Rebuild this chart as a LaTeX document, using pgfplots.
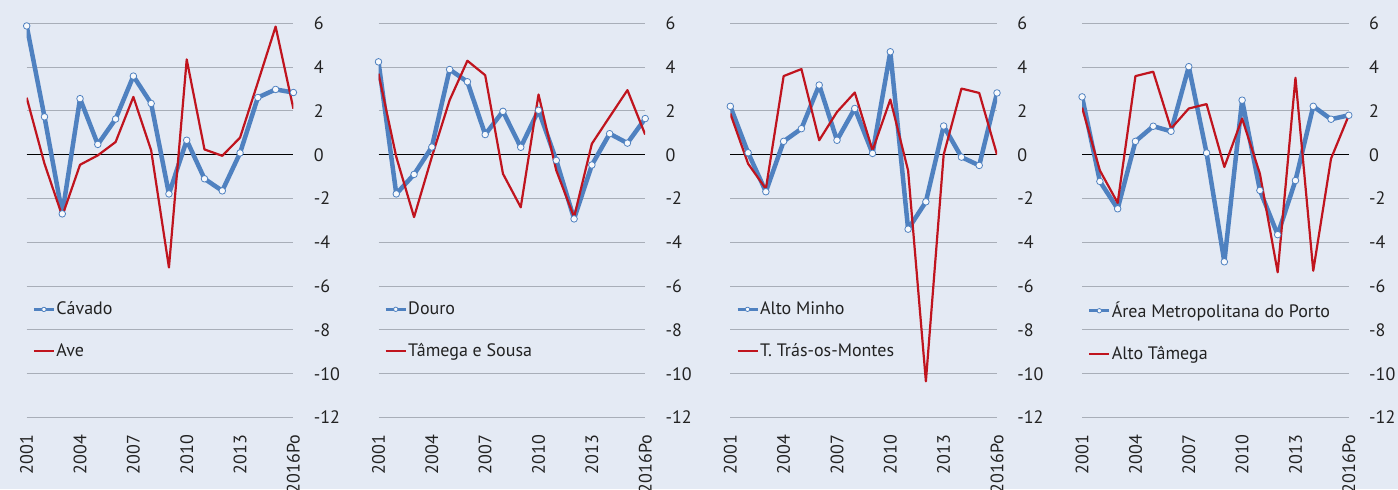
\documentclass[border=0pt]{standalone}
\usepackage{fontspec}
\setmainfont{PT Sans}
\usepackage{pgfplots}
\pgfplotsset{compat=1.18}
\definecolor{bg}{HTML}{E4EAF4}
\definecolor{blu}{HTML}{4F81C0}
\definecolor{rd}{HTML}{C0141E}
\definecolor{gridc}{HTML}{A8AEB8}
\definecolor{txt}{HTML}{222222}
\pgfplotsset{
  panel/.style={
    scale only axis, width=133.35pt, height=197.1pt,
    xmin=2001, xmax=2016, ymin=-12, ymax=6,
    axis line style={draw=none},
    major tick length=0pt,
    ytick={-12,-10,...,6},
    ymajorgrids, grid style={gridc, line width=0.5pt},
    extra y ticks={0}, extra y tick labels={},
    extra y tick style={grid style={black, line width=0.65pt}},
    yticklabel pos=right,
    yticklabel style={anchor=west, inner sep=0pt},
    yticklabel shift=10pt,
    xtick={2001,2004,2007,2010,2013,2016},
    xticklabels={2001,2004,2007,2010,2013,2016Po},
    xticklabel style={rotate=90, anchor=east, inner sep=0pt},
    xticklabel shift=8.5pt,
    tick label style={font=\fontsize{9}{10}\selectfont, text=txt},
    /pgf/number format/assume math mode=true,
    legend style={draw=none, fill=none, at={(0.02,0.298)}, anchor=north west,
      font=\fontsize{9}{10}\selectfont, text=txt, row sep=12pt,
      inner sep=0pt, nodes={inner sep=0.5pt}},
    legend cell align=left,
    legend image code/.code={\draw[mark repeat=2,mark phase=2,##1] plot coordinates {(0pt,0pt) (5pt,0pt) (10pt,0pt)};},
  },
  bl/.style={blu, line width=2.25pt, line join=round, mark=*, mark size=1.65pt,
    mark options={fill=white!70!bg, draw=blu, line width=0.4pt},
    legend image post style={line width=1.5pt, mark size=1.1pt}},
  rl/.style={rd, line width=1.1pt, line join=round, no marks},
}
\begin{document}
\begin{tikzpicture}
\useasboundingbox (0pt,0pt) rectangle (699pt,244.5pt);
\fill[bg] (0pt,0pt) rectangle (699pt,244.5pt);
% Panel 1
\begin{axis}[panel, at={(13.35pt,35.75pt)}, anchor=south west]
\addplot[bl] coordinates {(2001,5.88)(2002,1.73)(2003,-2.70)(2004,2.56)(2005,0.47)(2006,1.63)(2007,3.59)(2008,2.34)(2009,-1.79)(2010,0.66)(2011,-1.10)(2012,-1.65)(2013,0.08)(2014,2.61)(2015,2.98)(2016,2.84)};
\addlegendentry{Cávado}
\addplot[rl] coordinates {(2001,2.60)(2002,-0.41)(2003,-2.80)(2004,-0.46)(2005,-0.03)(2006,0.58)(2007,2.64)(2008,0.20)(2009,-5.15)(2010,4.35)(2011,0.24)(2012,-0.05)(2013,0.78)(2014,3.30)(2015,5.85)(2016,2.10)};
\addlegendentry{Ave}
\end{axis}
% Panel 2
\begin{axis}[panel, at={(189.25pt,35.75pt)}, anchor=south west]
\addplot[bl] coordinates {(2001,4.24)(2002,-1.79)(2003,-0.90)(2004,0.35)(2005,3.89)(2006,3.33)(2007,0.92)(2008,1.98)(2009,0.34)(2010,2.03)(2011,-0.26)(2012,-2.93)(2013,-0.47)(2014,0.96)(2015,0.53)(2016,1.65)};
\addlegendentry{Douro}
\addplot[rl] coordinates {(2001,3.70)(2002,-0.10)(2003,-2.85)(2004,-0.10)(2005,2.49)(2006,4.29)(2007,3.63)(2008,-0.87)(2009,-2.40)(2010,2.75)(2011,-0.72)(2012,-2.85)(2013,0.50)(2014,1.73)(2015,2.95)(2016,0.92)};
\addlegendentry{Tâmega e Sousa}
\end{axis}
% Panel 3
\begin{axis}[panel, at={(365.15pt,35.75pt)}, anchor=south west]
\addplot[bl] coordinates {(2001,2.21)(2002,0.09)(2003,-1.69)(2004,0.61)(2005,1.19)(2006,3.18)(2007,0.66)(2008,2.11)(2009,0.06)(2010,4.70)(2011,-3.40)(2012,-2.15)(2013,1.31)(2014,-0.11)(2015,-0.49)(2016,2.82)};
\addlegendentry{Alto Minho}
\addplot[rl] coordinates {(2001,1.88)(2002,-0.41)(2003,-1.56)(2004,3.59)(2005,3.91)(2006,0.66)(2007,1.95)(2008,2.84)(2009,0.20)(2010,2.52)(2011,-0.72)(2012,-10.35)(2013,0.00)(2014,3.02)(2015,2.82)(2016,0.00)};
\addlegendentry{T. Trás-os-Montes}
\end{axis}
% Panel 4
\begin{axis}[panel, at={(541.05pt,35.75pt)}, anchor=south west]
\addplot[bl] coordinates {(2001,2.64)(2002,-1.22)(2003,-2.47)(2004,0.61)(2005,1.30)(2006,1.07)(2007,4.02)(2008,0.08)(2009,-4.89)(2010,2.49)(2011,-1.63)(2012,-3.65)(2013,-1.18)(2014,2.21)(2015,1.62)(2016,1.80)};
\addlegendentry{Área Metropolitana do Porto}
\addplot[rl] coordinates {(2001,2.15)(2002,-0.72)(2003,-2.20)(2004,3.59)(2005,3.79)(2006,1.19)(2007,2.11)(2008,2.31)(2009,-0.56)(2010,1.65)(2011,-0.87)(2012,-5.37)(2013,3.51)(2014,-5.30)(2015,-0.18)(2016,1.80)};
\addlegendentry{Alto Tâmega}
\end{axis}
\end{tikzpicture}
\end{document}
